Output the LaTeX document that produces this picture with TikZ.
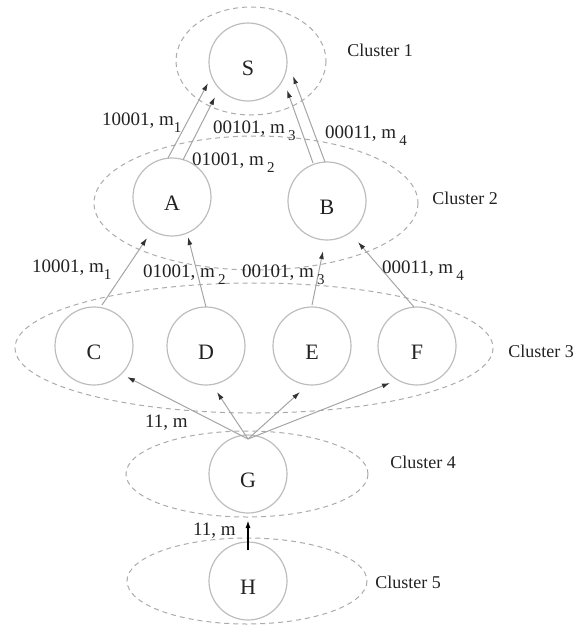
\documentclass[tikz,border=0pt]{standalone}
\usepackage{fontspec}
\setmainfont{Liberation Serif}
\usetikzlibrary{arrows.meta,calc}
\definecolor{circgray}{HTML}{BDBDBD}
\definecolor{dashgray}{HTML}{ABABAB}
\definecolor{linegray}{HTML}{A5A5A5}
\definecolor{txt}{HTML}{222222}
\newcommand\subx[1]{\raisebox{-0.38em}{\fontsize{15}{15}\selectfont #1}}
\newcommand\nlab[1]{\raisebox{-13.5pt}[0pt][0pt]{#1}}
\begin{document}
\begin{tikzpicture}[x=1pt,y=-1pt,
 vertex/.style={circle,draw=circgray,line width=1.2pt,minimum size=78pt,inner sep=0pt,font=\fontsize{22}{22}\selectfont,text=txt},
 cluster/.style={draw=dashgray,line width=1pt,dash pattern=on 5pt off 4pt},
 clabel/.style={font=\fontsize{18}{18}\selectfont,text=txt,inner sep=0pt},
 elabel/.style={font=\fontsize{19}{19}\selectfont,text=txt,inner sep=0pt,anchor=base west},
 conn/.style={draw=linegray,line width=1pt,-{Latex[length=8pt,width=5pt,color=black!80]}},
 strong/.style={draw=black,line width=1.6pt,-{Latex[length=8pt,width=5pt]}}]
\useasboundingbox (0,0) rectangle (581,627);
% clusters
\draw[cluster] (251,61) ellipse [x radius=75, y radius=54];
\draw[cluster] (256,203) ellipse [x radius=162, y radius=67];
\draw[cluster] (254,348) ellipse [x radius=239, y radius=65];
\draw[cluster] (247,474) ellipse [x radius=121, y radius=43];
\draw[cluster] (247,581) ellipse [x radius=120, y radius=43];
% vertices
\node[vertex] (S) at (248,62) {\nlab{S}};
\node[vertex] (A) at (172,197) {\nlab{A}};
\node[vertex] (B) at (327,201) {\nlab{B}};
\node[vertex] (C) at (94,346) {\nlab{C}};
\node[vertex] (D) at (206,346) {\nlab{D}};
\node[vertex] (E) at (312,346) {\nlab{E}};
\node[vertex] (F) at (417,346) {\nlab{F}};
\node[vertex] (G) at (248,474) {\nlab{G}};
\node[vertex] (H) at (248,581) {\nlab{H}};
% cluster labels
\node[clabel] (l1) at (380,50) {Cluster 1};
\node[clabel] (l2) at (465,198) {Cluster 2};
\node[clabel] (l3) at (541,351) {Cluster 3};
\node[clabel] (l4) at (423,462) {Cluster 4};
\node[clabel] (l5) at (408,582) {Cluster 5};
% connectors
\draw[conn] ($(A)+(-4,-39)$) -- ($(S)+(-40,21)$);
\draw[conn] ($(A)+(11,-37)$) -- ($(S)+(-33,35)$);
\draw[conn] ($(B)+(-14,-38)$) -- ($(S)+(39,28)$);
\draw[conn] ($(B)+(-2,-39)$) -- ($(S)+(45,14)$);
\draw[conn] ($(C)+(8,-41)$) -- ($(A)+(-25,41)$);
\draw[conn] ($(D)+(0,-39)$) -- ($(A)+(16,40)$);
\draw[conn] ($(E)+(0,-41)$) -- ($(B)+(-4,50)$);
\draw[conn] ($(F)+(-3,-39)$) -- ($(B)+(31,41)$);
\draw[conn] ($(G)+(0,-35)$) -- ($(C)+(33,31)$);
\draw[conn] ($(G)+(0,-35)$) -- ($(D)+(11,46)$);
\draw[conn] ($(G)+(0,-35)$) -- ($(E)+(-12,46)$);
\draw[conn] ($(G)+(0,-35)$) -- ($(F)+(-27,37)$);
\draw[strong] ($(H)+(0,-31)$) -- ($(G)+(0,46)$);
% edge labels
\node[elabel] (e1) at (102,125) {10001, m\subx{1}};
\node[elabel] (e3) at (213,133) {00101, m\,\subx{3}};
\node[elabel] (e4) at (325,138) {00011, m\,\subx{4}};
\node[elabel] (e2) at (192,165) {01001, m\,\subx{2}};
\node[elabel] (f1) at (32,272) {10001, m\subx{1}};
\node[elabel] (f2) at (143,277) {01001, m\,\subx{2}};
\node[elabel] (f3) at (242,277) {00101, m\,\subx{3}};
\node[elabel] (f4) at (382,273) {00011, m\,\subx{4}};
\node[elabel] (g1) at (145,427) {11, m};
\node[elabel] (h1) at (193,535) {11, m};
\end{tikzpicture}
\end{document}
